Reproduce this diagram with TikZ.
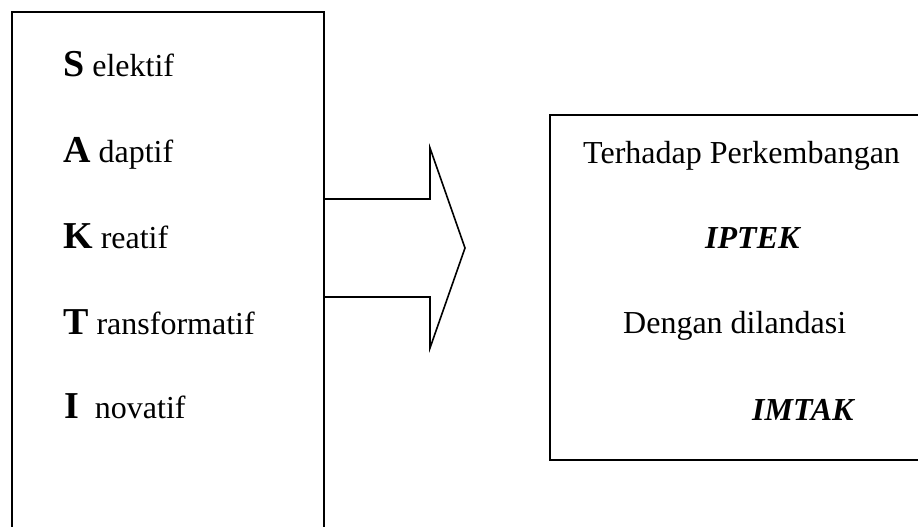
\documentclass[tikz,border=0pt]{standalone}
\usepackage{fontspec}
\setmainfont{Liberation Serif}
\begin{document}
\begin{tikzpicture}[x=1pt,y=-1pt,
  frame/.style={draw=black, line width=2pt, inner sep=0pt, anchor=north west},
  txt/.style={inner sep=0pt, anchor=base west, font=\fontsize{32}{36}\selectfont},
  initial/.style={font=\fontsize{38}{42}\selectfont\bfseries},
  arrowline/.style={draw=black, line width=1.6pt, line join=miter}]
\useasboundingbox (0,0) rectangle (918,527);
\clip (0,0) rectangle (918,527);
\fill[white] (0,0) rectangle (918,527);
% left box
\node[frame, minimum width=312pt, minimum height=560pt] (leftbox) at (11,11) {};
% right box
\node[frame, minimum width=400pt, minimum height=345pt] (rightbox) at (549,114) {};
% block arrow
\coordinate (a1) at (323,199);
\coordinate (a2) at (430,199);
\coordinate (a3) at (430,148);
\coordinate (tip) at (465,248);
\coordinate (a5) at (430,348);
\coordinate (a6) at (430,297);
\coordinate (a7) at (323,297);
\draw[arrowline] (a1) -- (a2) -- (a3) -- (tip) -- (a5) -- (a6) -- (a7);
% left texts
\node[txt] (s) at (63,77) {{\fontsize{38}{42}\selectfont\bfseries S} elektif};
\node[txt] (a) at (63,162) {{\fontsize{38}{42}\selectfont\bfseries A} daptif};
\node[txt] (k) at (63,248) {{\fontsize{38}{42}\selectfont\bfseries K} reatif};
\node[txt] (t) at (63,334) {{\fontsize{38}{42}\selectfont\bfseries T} ransformatif};
\node[txt] (i) at (64,418) {{\fontsize{38}{42}\selectfont\bfseries I}\ \ novatif};
% right texts
\node[txt] (terhadap) at (583,163) {Terhadap Perkembangan};
\node[txt, font=\fontsize{32}{36}\selectfont\bfseries\itshape] (iptek) at (705,248) {IPTEK};
\node[txt] (dengan) at (623,333) {Dengan dilandasi};
\node[txt, font=\fontsize{32}{36}\selectfont\bfseries\itshape] (imtak) at (752,420) {IMTAK};
\end{tikzpicture}
\end{document}
